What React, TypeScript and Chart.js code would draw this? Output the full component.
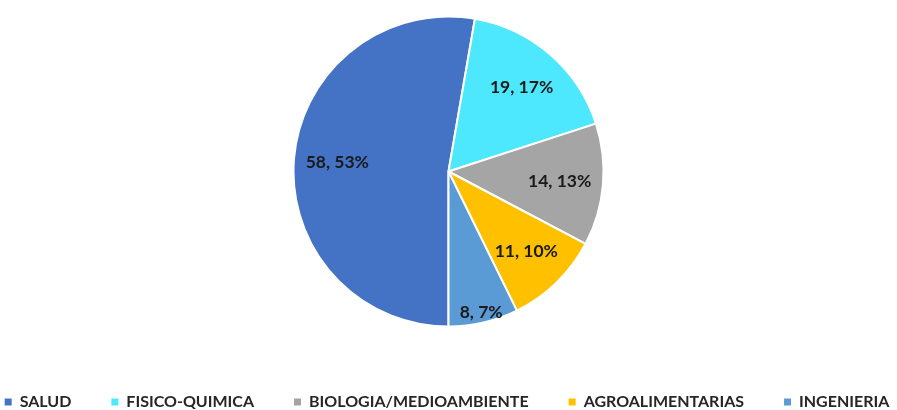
import React, { useEffect, useRef } from "react";
import { Chart, registerables } from "chart.js";

Chart.register(...registerables);

const categories = ["SALUD", "FISICO-QUIMICA", "BIOLOGIA/MEDIOAMBIENTE", "AGROALIMENTARIAS", "INGENIERIA"];
const values = [58, 19, 14, 11, 8];
const colors = ["#4472C4", "#4DE8FD", "#A5A5A5", "#FFC000", "#5B9BD5"];

const FONT = "Lato, 'Open Sans', sans-serif";

const labelPlugin = {
  id: "sliceLabels",
  afterDatasetsDraw(chart: any) {
    const { ctx } = chart;
    const meta = chart.getDatasetMeta(0);
    const data = chart.data.datasets[0].data as number[];
    const total = data.reduce((a, b) => a + b, 0);
    ctx.save();
    ctx.font = `bold 17.5px ${FONT}`;
    ctx.fillStyle = "#1a1a1a";
    ctx.textAlign = "center";
    ctx.textBaseline = "middle";
    meta.data.forEach((arc: any, i: number) => {
      const { x, y, startAngle, endAngle, outerRadius } = arc.getProps(
        ["x", "y", "startAngle", "endAngle", "outerRadius"],
        true
      );
      const span = endAngle - startAngle;
      const mid = (startAngle + endAngle) / 2;
      const frac = span < 0.55 ? 0.93 : 0.72;
      const r = outerRadius * frac;
      const pct = Math.round((data[i] / total) * 100);
      ctx.fillText(`${data[i]}, ${pct}%`, x + Math.cos(mid) * r, y + Math.sin(mid) * r);
    });
    ctx.restore();
  },
};

export default function App() {
  const ref = useRef<HTMLCanvasElement>(null);
  useEffect(() => {
    if (!ref.current) return;
    const chart = new Chart(ref.current, {
      type: "pie",
      data: {
        labels: categories,
        datasets: [
          {
            data: values,
            backgroundColor: colors,
            borderColor: "#ffffff",
            borderWidth: 2,
            hoverOffset: 0,
            offset: 0,
            radius: 155,
          } as any,
        ],
      },
      options: {
        responsive: false,
        animation: false,
        rotation: 180,
        layout: { padding: { top: 14, bottom: -10, left: -70, right: -67 } },
        plugins: {
          tooltip: { enabled: false },
          legend: {
            position: "bottom",
            title: { display: true, text: " ", padding: { top: 0, bottom: 10.6 }, font: { size: 12 } },
            labels: {
              boxWidth: 7,
              boxHeight: 7,
              padding: 40,
              color: "#262626",
              font: { family: FONT, size: 16, weight: "bold" },
              generateLabels(chart: any) {
                const items = (Chart as any).overrides.pie.plugins.legend.labels.generateLabels(chart);
                return items.map((it: any) => ({ ...it, lineWidth: 0, strokeStyle: "transparent" }));
              },
            },
          },
        },
      },
      plugins: [labelPlugin],
    });
    return () => chart.destroy();
  }, []);
  return (
    <canvas
      ref={ref}
      width={897}
      height={410}
      style={{ position: "fixed", left: 0, top: 0, width: 897, height: 410, background: "#fff" }}
    />
  );
}
